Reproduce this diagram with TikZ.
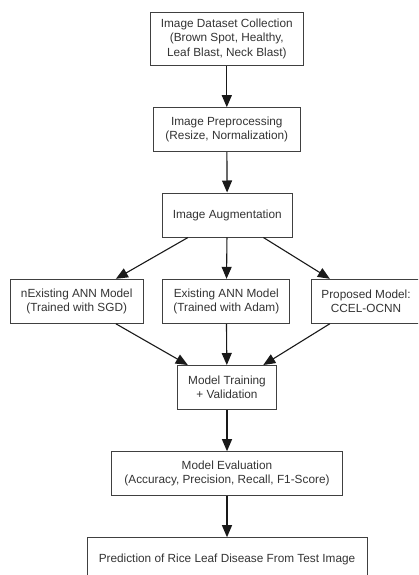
\documentclass[tikz,border=0pt]{standalone}
\usepackage{fontspec}
\setmainfont{Liberation Sans}
\usepackage{xcolor}
\usepackage{tikz}
\usetikzlibrary{arrows.meta}

\begin{document}
\begin{tikzpicture}[x=1pt, y=-1pt, every node/.style={font=\fontsize{11.8}{14.3}\selectfont, text=black!80},
  stage/.style={draw=black!75, line width=1pt, rectangle, align=center, minimum height=44pt, inner sep=0pt},
  flow/.style={-{Triangle[width=10pt,length=12pt]}, line width=1.1pt, black!90}]
\useasboundingbox (0,0) rectangle (418,575);
\clip (0,0) rectangle (418,575);

\node(collect)[stage, minimum width=153pt, minimum height=53pt] at (226.8,38.8) {Image Dataset Collection\\(Brown Spot, Healthy,\\Leaf Blast, Neck Blast)};
\node(prep)[stage, minimum width=147pt] at (226.8,129.7) {Image Preprocessing\\(Resize, Normalization)};
\node(aug)[stage, minimum width=129.7pt] at (227.2,215) {Image Augmentation};

\node(sgd)[stage, minimum width=133.3pt] at (76.7,301.3) {nExisting ANN Model\\(Trained with SGD)};
\node(adam)[stage, minimum width=127.3pt] at (226.3,301.3) {Existing ANN Model\\(Trained with Adam)};
\node(ocnn)[stage, minimum width=109pt] at (366,301.3) {Proposed Model:\\CCEL-OCNN};

\node(train)[stage, minimum width=98.6pt] at (227,387.5) {Model Training\\+ Validation};
\node(eval)[stage, minimum width=231.4pt] at (227,473.7) {Model Evaluation\\(Accuracy, Precision, Recall, F1-Score)};
\node(pred)[stage, minimum width=280pt] at (227,559.7) {Prediction of Rice Leaf Disease From Test Image};

\draw[flow] (collect) -- (prep);
\draw[flow] (prep) -- (aug);
\draw[flow] (aug) -- (sgd);
\draw[flow] (aug) -- (adam);
\draw[flow] (aug) -- (ocnn);
\draw[flow] (sgd) -- (train);
\draw[flow] (adam) -- (train);
\draw[flow] (ocnn) -- (train);
\draw[flow] (train) -- (eval);
\draw[flow] (eval) -- (pred);
\end{tikzpicture}
\end{document}
